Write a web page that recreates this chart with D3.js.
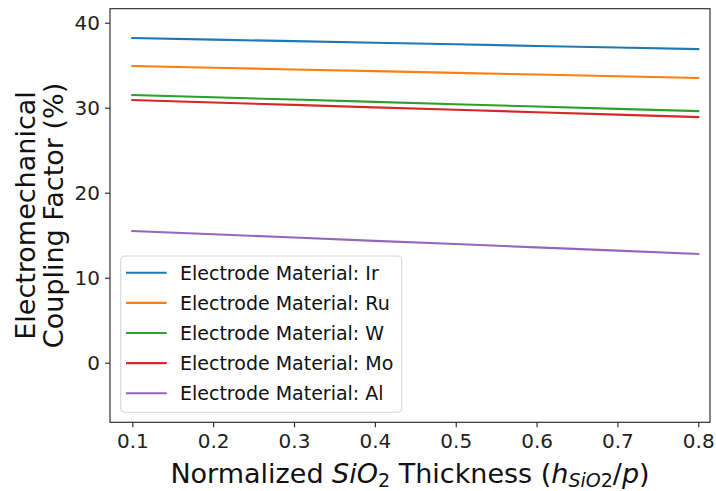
<!DOCTYPE html>
<html>
<head>
<meta charset="utf-8">
<script src="https://cdn.jsdelivr.net/npm/d3@7"></script>
<style>
  html, body { margin: 0; padding: 0; background: #fff; }
  svg { display: block; font-family: "DejaVu Sans", sans-serif; }
</style>
</head>
<body>
<svg id="chart" width="716" height="491"></svg>
<script>
// ---- data ----
const thickness = [0.1, 0.2, 0.3, 0.4, 0.5, 0.6, 0.7, 0.8];
const materials = ["Ir", "Ru", "W", "Mo", "Al"];
const valuesIr = [38.20, 38.01, 37.83, 37.64, 37.46, 37.27, 37.09, 36.90];
const valuesRu = [34.90, 34.70, 34.50, 34.30, 34.10, 33.90, 33.70, 33.50];
const valuesW  = [31.50, 31.23, 30.96, 30.69, 30.41, 30.14, 29.87, 29.60];
const valuesMo = [30.90, 30.61, 30.33, 30.04, 29.76, 29.47, 29.19, 28.90];
const valuesAl = [15.50, 15.11, 14.73, 14.34, 13.96, 13.57, 13.19, 12.80];
const xTicks = [0.1, 0.2, 0.3, 0.4, 0.5, 0.6, 0.7, 0.8];
const yTicks = [0, 10, 20, 30, 40];
const colors = ["#1f77b4", "#ff7f0e", "#2ca02c", "#d62728", "#9467bd"];

const series = [valuesIr, valuesRu, valuesW, valuesMo, valuesAl].map((v, i) => ({
  name: "Electrode Material: " + materials[i],
  color: colors[i],
  points: thickness.map((t, j) => ({ x: t, y: v[j] }))
}));

// ---- layout ----
const plot = { left: 110, right: 710, top: 8.7, bottom: 422.3 };
const svg = d3.select("#chart");

const x = d3.scaleLinear().domain([0.0724, 0.8145]).range([plot.left, plot.right]);
const y = d3.scaleLinear().domain([-7.01, 41.65]).range([plot.bottom, plot.top]);

// lines
const line = d3.line().x(d => x(d.x)).y(d => y(d.y));
svg.append("g").selectAll("path").data(series).join("path")
  .attr("d", d => line(d.points))
  .attr("fill", "none")
  .attr("stroke", d => d.color)
  .attr("stroke-width", 2.1)
  .attr("stroke-linecap", "square");

// axes
const xAxis = d3.axisBottom(x).tickValues(xTicks).tickFormat(d3.format(".1f"))
  .tickSize(5).tickPadding(5);
const yAxis = d3.axisLeft(y).tickValues(yTicks).tickFormat(d3.format("d"))
  .tickSize(5).tickPadding(5);

const gx = svg.append("g").attr("transform", `translate(0,${plot.bottom})`).call(xAxis);
const gy = svg.append("g").attr("transform", `translate(${plot.left},0)`).call(yAxis);
[gx, gy].forEach(g => {
  g.select(".domain").remove();
  g.selectAll(".tick line").attr("stroke", "#222").attr("stroke-width", 1.1);
  g.selectAll(".tick text").attr("fill", "#222")
    .style("font-family", "DejaVu Sans").style("font-size", "20px");
});
gx.selectAll(".tick text").attr("dy", "0.78em");

// frame
svg.append("rect")
  .attr("x", plot.left).attr("y", plot.top)
  .attr("width", plot.right - plot.left).attr("height", plot.bottom - plot.top)
  .attr("fill", "none").attr("stroke", "#222").attr("stroke-width", 1.1);

// x label
const xl = svg.append("text")
  .attr("x", (plot.left + plot.right) / 2).attr("y", 483)
  .attr("text-anchor", "middle")
  .style("font-size", "27px").attr("fill", "#111");
xl.append("tspan").text("Normalized ");
xl.append("tspan").style("font-style", "italic").text("SiO");
xl.append("tspan").attr("dy", 4).style("font-size", "19px").text("2");
xl.append("tspan").attr("dy", -4).text(" Thickness (");
xl.append("tspan").style("font-style", "italic").text("h");
xl.append("tspan").attr("dy", 4).style("font-size", "19px").style("font-style", "italic").text("SiO");
xl.append("tspan").style("font-size", "19px").text("2");
xl.append("tspan").attr("dy", -4).text("/");
xl.append("tspan").style("font-style", "italic").text("p");
xl.append("tspan").text(")");

// y label (two lines)
const cy = (plot.top + plot.bottom) / 2;
const yl = svg.append("text")
  .attr("transform", `translate(35,${cy}) rotate(-90)`)
  .attr("text-anchor", "middle")
  .style("font-size", "27px").attr("fill", "#111");
yl.append("tspan").attr("x", 0).attr("y", 0).text("Electromechanical");
yl.append("tspan").attr("x", 0).attr("y", 28).text("Coupling Factor (%)");

// legend
const lg = svg.append("g");
lg.append("rect")
  .attr("x", 120.7).attr("y", 256).attr("width", 281).attr("height", 156.3)
  .attr("rx", 4).attr("ry", 4)
  .attr("fill", "rgba(255,255,255,0.8)").attr("stroke", "#d6d6d6").attr("stroke-width", 1.1);
const rowY = d3.scaleLinear().domain([0, 4]).range([272.7, 393.3]);
const items = lg.selectAll("g.item").data(series).join("g")
  .attr("class", "item")
  .attr("transform", (d, i) => `translate(0,${rowY(i)})`);
items.append("line")
  .attr("x1", 126).attr("x2", 166.7).attr("y1", 0).attr("y2", 0)
  .attr("stroke", d => d.color).attr("stroke-width", 2.1);
items.append("text")
  .attr("x", 180).attr("y", 0).attr("dy", "0.36em")
  .style("font-size", "19px").attr("fill", "#111")
  .text(d => d.name);
</script>
</body>
</html>
